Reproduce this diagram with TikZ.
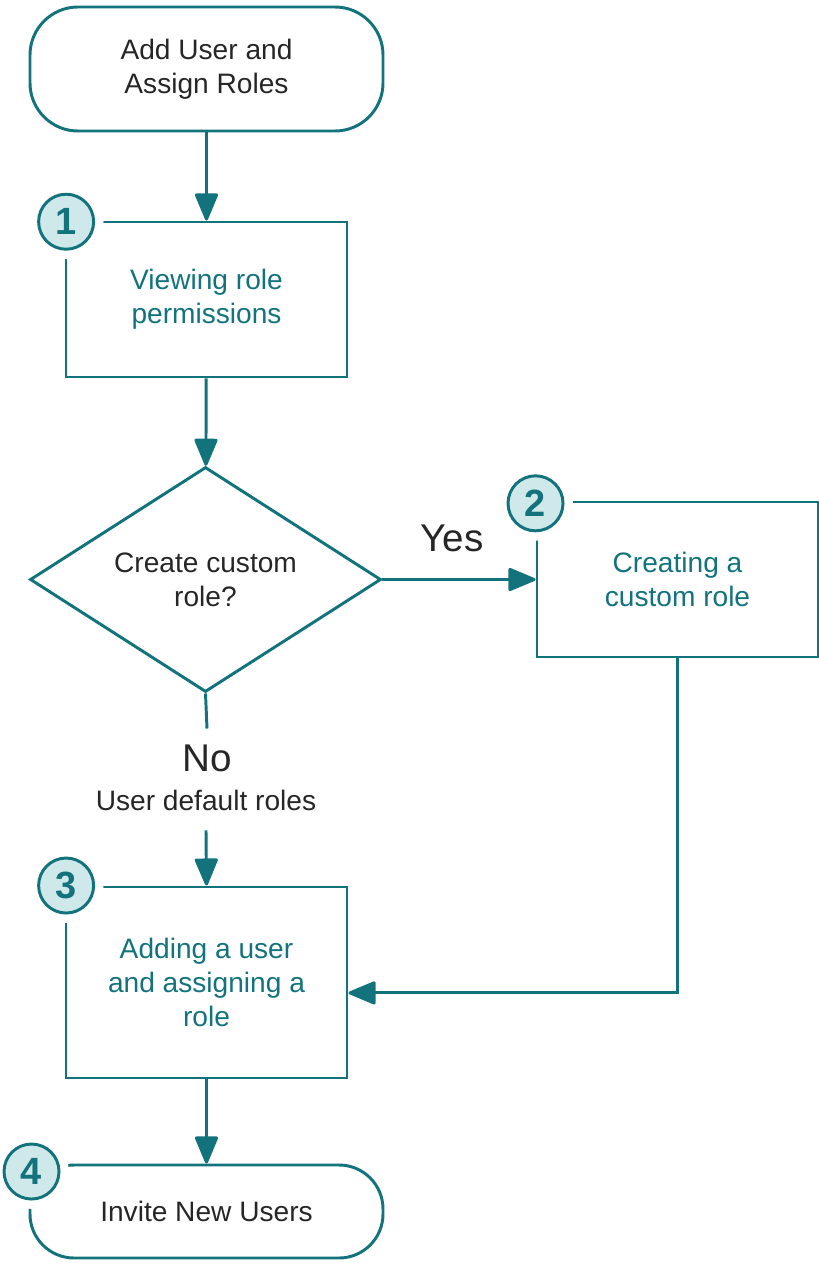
\documentclass[tikz,border=0pt]{standalone}
\usepackage{fontspec}
\setmainfont{Liberation Sans}
\usepackage{xcolor}
\usetikzlibrary{shapes.geometric,arrows.meta}

\definecolor{flowteal}{HTML}{12737D}
\definecolor{numfill}{HTML}{CFE8EA}
\definecolor{darktext}{HTML}{262626}

\tikzset{
  flow/.style={draw=flowteal, line width=2.1pt},
  arrow/.style={flow, -{Triangle[length=21pt,width=17pt,round]}},
  terminal/.style={flow, rounded corners=1.2cm, minimum width=8.825cm, align=center,
    text=darktext, font=\fontsize{20}{24.4}\selectfont},
  stepbox/.style={flow, minimum width=7.025cm, minimum height=3.875cm, align=center,
    text=flowteal, font=\fontsize{20}{24.4}\selectfont},
  decision/.style={flow, diamond, aspect=1.56, minimum width=8.775cm, minimum height=5.625cm,
    inner sep=0pt, align=center, text=darktext, font=\fontsize{20}{24.4}\selectfont},
  numdot/.style={circle, flow, fill=numfill, minimum size=1.375cm, inner sep=0pt,
    text=flowteal, font=\bfseries\fontsize{27}{27}\selectfont,
    preaction={draw=white, line width=14pt}},
  biglabel/.style={inner sep=0pt, text=darktext, font=\fontsize{27.5}{33}\selectfont},
  smalllabel/.style={inner sep=0pt, text=darktext, font=\fontsize{20}{24.4}\selectfont}
}

\begin{document}
\begin{tikzpicture}
  \useasboundingbox (0,0) rectangle (20.475,-31.575);
  % boxes of the flow
  \node[terminal, minimum height=3.1cm] (start) at (5.1625,-1.725) {Add User and\\Assign Roles};
  \node[stepbox] (view) at (5.1625,-7.4875) {Viewing role\\permissions};
  \node[decision] (decide) at (5.1375,-14.4875) {Create custom\\role?};
  \node[stepbox] (create) at (16.9375,-14.4875) {Creating a\\custom role};
  \node[stepbox, minimum height=4.775cm] (add) at (5.1625,-24.5625) {Adding a user\\and assigning a\\role};
  \node[terminal, minimum height=2.325cm, rounded corners=1.1cm] (invite) at (5.1625,-30.2875) {Invite New Users};
  % step numbers
  \node[numdot] (num1) at ([shift={(0.04,-0.03)}]view.north west) {1};
  \node[numdot] (num2) at ([shift={(0,-0.07)}]create.north west) {2};
  \node[numdot] (num3) at ([shift={(0.04,0)}]add.north west) {3};
  \node[numdot] (num4) at ([shift={(0.075,-0.2)}]invite.north west) {4};
  % branch labels
  \node[biglabel] (yes) at (11.3,-13.45) {Yes};
  \node[biglabel, outer sep=0.4cm] (no) at (5.175,-18.95) {No};
  \node[smalllabel, outer sep=0.5cm] (dflt) at (5.15,-20.0) {User default roles};
  % connectors
  \draw[arrow] (start) -- (view);
  \draw[arrow] (view) -- (decide);
  \draw[arrow] (decide.east) -- (create.west);
  \draw[flow] (decide.south) -- (no.north);
  \draw[arrow] (dflt.south) -- (add.north);
  \draw[arrow] (create.south) |- ([yshift=-0.26cm]add.east);
  \draw[arrow] (add) -- (invite);
\end{tikzpicture}
\end{document}
